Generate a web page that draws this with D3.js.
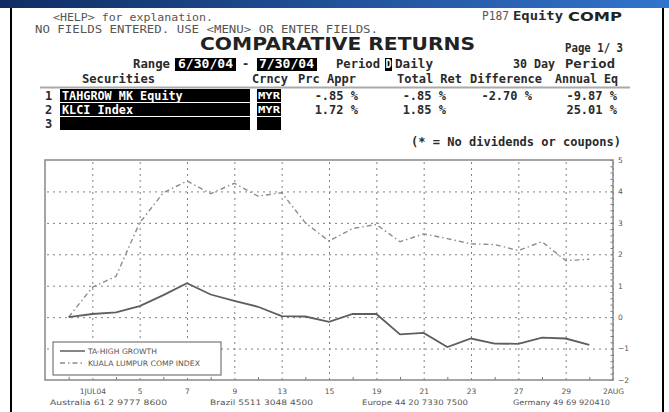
<!DOCTYPE html>
<head>
<meta charset="utf-8">
<script src="https://d3js.org/d3.v7.min.js"></script>
<style>
    body { margin: 0; background: #fff; }
    svg { display: block; }
    .mono { font-family: "DejaVu Sans Mono", monospace; font-size: 12px; fill: #333; }
    .tbl { font-weight: bold; fill: #2a2a2a; }
    .inv { fill: #fff; font-weight: bold; }
    .small { font-family: "DejaVu Sans", sans-serif; font-size: 7.5px; fill: #555; }
    .grid line { stroke: #808080; stroke-dasharray: 2,4; }
    .grid path, .axis path { display: none; }
    .axis line { stroke: #777; }
    .axis text { font-family: "DejaVu Sans", sans-serif; font-size: 7.5px; fill: #555; }
</style>
</head>
<body>
<script>
// trading days on the x axis (index based, 6/30 is day 0)
var dates = ["2004-06-30", "2004-07-01", "2004-07-02", "2004-07-05", "2004-07-06", "2004-07-07",
    "2004-07-08", "2004-07-09", "2004-07-12", "2004-07-13", "2004-07-14", "2004-07-15",
    "2004-07-16", "2004-07-19", "2004-07-20", "2004-07-21", "2004-07-22", "2004-07-23",
    "2004-07-26", "2004-07-27", "2004-07-28", "2004-07-29", "2004-07-30", "2004-08-02"];
var tickDays = ["2004-07-01", "2004-07-05", "2004-07-07", "2004-07-09", "2004-07-13", "2004-07-15",
    "2004-07-19", "2004-07-21", "2004-07-23", "2004-07-27", "2004-07-29", "2004-08-02"];
var tickLabels = ["1JUL04", "5", "7", "9", "13", "15", "19", "21", "23", "27", "29", "2AUG"];

// cumulative return in %
var taHighGrowth = [0, 0.1, 0.15, 0.35, 0.7, 1.08, 0.72, 0.52, 0.33, 0.03, 0.02, -0.15,
    0.1, 0.1, -0.55, -0.5, -0.95, -0.68, -0.84, -0.85, -0.65, -0.68, -0.88];
var klci = [0, 0.95, 1.3, 3.0, 3.96, 4.33, 3.93, 4.26, 3.85, 3.96, 3.0, 2.42,
    2.82, 2.95, 2.4, 2.65, 2.5, 2.33, 2.31, 2.12, 2.4, 1.8, 1.84];
var yTicks = [5, 4, 3, 2, 1, 0, -1, -2];

var seriesNames = ["TA-HIGH GROWTH", "KUALA LUMPUR COMP INDEX"];
var securities = ["TAHGROW MK Equity", "KLCI Index", ""];
var prcAppr = ["-.85 %", "1.72 %"];
var totalRet = ["-.85 %", "1.85 %"];
var difference = ["-2.70 %", ""];
var annualEq = ["-9.87 %", "25.01 %"];

var W = 669, H = 412;
var plot = { left: 45, right: 613, top: 160, bottom: 380 };

var svg = d3.select("body").append("svg").attr("width", W).attr("height", H);

// top bar and borders
var grad = svg.append("defs").append("linearGradient").attr("id", "bar");
grad.append("stop").attr("offset", "0%").attr("stop-color", "#0f2d64");
grad.append("stop").attr("offset", "100%").attr("stop-color", "#3274cc");
svg.append("rect").attr("width", W).attr("height", 8).attr("fill", "url(#bar)");
svg.append("rect").attr("x", 10).attr("y", 8).attr("width", 2).attr("height", H - 8).attr("fill", "#000");
svg.append("rect").attr("x", 662).attr("y", 8).attr("width", 2).attr("height", H - 8).attr("fill", "#000");

function txt(s, x, y, cls, anchor, len) {
    var t = svg.append("text").attr("x", x).attr("y", y).attr("class", cls)
        .style("text-anchor", anchor || "start").text(s);
    if (len) t.attr("textLength", len).attr("lengthAdjust", "spacingAndGlyphs");
    return t;
}

// header texts
txt("<HELP> for explanation.", 53, 21, "mono", "start", 160).style("fill", "#555").style("font-size", "11px");
txt("NO FIELDS ENTERED. USE <MENU> OR ENTER FIELDS.", 35, 33, "mono", "start", 343).style("fill", "#555").style("font-size", "11px");
txt("P187", 482, 20, "mono", "start", 27).style("fill", "#555");
txt("Equity", 513, 20, "mono tbl", "start", 50);
txt("COMP", 568, 21, "mono", "start", 54)
    .style("font-family", "DejaVu Sans").style("font-weight", "bold").style("font-size", "13px").style("fill", "#222");
txt("COMPARATIVE RETURNS", 200, 50, "mono", "start", 275)
    .style("font-family", "DejaVu Sans").style("font-weight", "bold").style("font-size", "17px").style("fill", "#222");
txt("Page  1/ 3", 565, 52, "mono tbl", "start", 58);

// range row
var rowY = 68;
txt("Range", 133, rowY, "mono tbl", "start", 37);
svg.append("rect").attr("x", 175).attr("y", 58).attr("width", 61).attr("height", 13).attr("fill", "#000");
txt("6/30/04", 178, rowY, "mono inv", "start", 55);
txt("-", 242, rowY, "mono tbl");
svg.append("rect").attr("x", 257).attr("y", 58).attr("width", 60).attr("height", 13).attr("fill", "#000");
txt("7/30/04", 259, rowY, "mono inv", "start", 55);
txt("Period", 336, rowY, "mono tbl", "start", 44);
svg.append("rect").attr("x", 385).attr("y", 58).attr("width", 7).attr("height", 13).attr("fill", "#000");
txt("D", 385.5, rowY, "mono inv", "start", 6);
txt("Daily", 395, rowY, "mono tbl", "start", 38);
txt("30 Day", 513, rowY, "mono tbl", "start", 42);
txt("Period", 565, rowY, "mono tbl", "start", 50);

// column headers
var hY = 83;
txt("Securities", 82, hY, "mono tbl", "start", 73);
txt("Crncy", 252, hY, "mono tbl", "start", 36);
txt("Prc Appr", 298, hY, "mono tbl", "start", 58);
txt("Total Ret", 397, hY, "mono tbl", "start", 65);
txt("Difference", 470, hY, "mono tbl", "start", 72);
txt("Annual Eq", 555, hY, "mono tbl", "start", 63);
svg.append("rect").attr("x", 40).attr("y", 86.5).attr("width", 590).attr("height", 2).attr("fill", "#aaa");

securities.forEach(function(s, i) {
    var rTop = 89 + i * 14, base = rTop + 10.5;
    svg.append("rect").attr("x", 60).attr("y", rTop).attr("width", 190).attr("height", 13).attr("fill", "#000");
    svg.append("rect").attr("x", 257).attr("y", rTop).attr("width", 24).attr("height", 13).attr("fill", "#000");
    txt(String(i + 1), 45, base, "mono tbl");
    if (s) {
        txt(s, 62, base, "mono inv", "start", s.length * 7.1);
        txt("MYR", 258, base - 1, "mono inv", "start", 22).style("font-size", "9px");
    }
    if (i < 2) {
        txt(prcAppr[i], 358, base, "mono tbl", "end");
        txt(totalRet[i], 446, base, "mono tbl", "end");
        if (difference[i]) txt(difference[i], 532, base, "mono tbl", "end");
        txt(annualEq[i], 617, base, "mono tbl", "end");
    }
});
txt("(* = No dividends or coupons)", 621, 146, "mono tbl", "end", 210);

// chart
var x = d3.scaleLinear().domain([-1, dates.length - 1]).range([plot.left, plot.right]);
var y = d3.scaleLinear().domain([-2, 5]).range([plot.bottom, plot.top]);
var xi = function(d) { return x(dates.indexOf(d)); };
var tickIdx = tickDays.map(function(d) { return dates.indexOf(d); });
var minorIdx = dates.filter(function(d) { return tickDays.indexOf(d) < 0; })
    .map(function(d) { return dates.indexOf(d); });

svg.append("g").attr("class", "grid")
    .attr("transform", "translate(" + plot.right + ",0)")
    .call(d3.axisLeft(y).tickValues(yTicks.slice(1, -1)).tickSize(plot.right - plot.left).tickFormat(""));
svg.append("g").attr("class", "grid")
    .attr("transform", "translate(0," + plot.bottom + ")")
    .call(d3.axisTop(x).tickValues(tickIdx).tickSize(plot.bottom - plot.top).tickFormat(""));

// right axis labels and minor ticks
svg.append("g").attr("class", "axis")
    .attr("transform", "translate(" + plot.right + ",0)")
    .call(d3.axisLeft(y).tickValues(d3.range(-2, 5.01, 0.2)).tickSize(2.5).tickFormat(""));
svg.append("g").attr("class", "axis")
    .attr("transform", "translate(" + plot.right + ",0)")
    .call(d3.axisRight(y).tickValues(yTicks).tickSize(0).tickPadding(5).tickFormat(d3.format("d")));

// bottom labels and minor ticks
svg.append("g").attr("class", "axis")
    .attr("transform", "translate(0," + plot.bottom + ")")
    .call(d3.axisTop(x).tickValues(minorIdx).tickSize(3).tickFormat(""));
svg.append("g").attr("class", "axis")
    .attr("transform", "translate(0," + plot.bottom + ")")
    .call(d3.axisBottom(x).tickValues(tickIdx).tickSize(0).tickPadding(9)
        .tickFormat(function(d, i) { return tickLabels[i]; }));

svg.append("rect").attr("x", plot.left).attr("y", plot.top)
    .attr("width", plot.right - plot.left).attr("height", plot.bottom - plot.top)
    .attr("fill", "none").attr("stroke", "#888").attr("stroke-width", 1.5);

var line = d3.line()
    .x(function(d, i) { return xi(dates[i]); })
    .y(function(d) { return y(d); });

svg.append("path").datum(klci).attr("d", line)
    .attr("fill", "none").attr("stroke", "#8c8c8c").attr("stroke-width", 1.4)
    .attr("stroke-dasharray", "5,3,1.5,3");
svg.append("path").datum(taHighGrowth).attr("d", line)
    .attr("fill", "none").attr("stroke", "#5e5e5e").attr("stroke-width", 1.8);

// legend
svg.append("rect").attr("x", 53).attr("y", 342).attr("width", 168).attr("height", 33)
    .attr("fill", "#fff").attr("stroke", "#777").attr("stroke-width", 1.2);
svg.append("line").attr("x1", 60).attr("x2", 85).attr("y1", 351).attr("y2", 351)
    .attr("stroke", "#5e5e5e").attr("stroke-width", 1.5);
svg.append("line").attr("x1", 60).attr("x2", 85).attr("y1", 363).attr("y2", 363)
    .attr("stroke", "#8c8c8c").attr("stroke-width", 1.3).attr("stroke-dasharray", "5,3,1.5,3");
txt(seriesNames[0], 88, 354, "small", "start", 69);
txt(seriesNames[1], 88, 366, "small", "start", 112);

// footer
txt("Australia 61 2 9777 8600", 50, 405, "small", "start", 117);
txt("Brazil 5511 3048 4500", 210, 405, "small", "start", 103);
txt("Europe 44 20 7330 7500", 362, 405, "small", "start", 106);
txt("Germany 49 69 920410", 513, 405, "small", "start", 97);
</script>
</body>
